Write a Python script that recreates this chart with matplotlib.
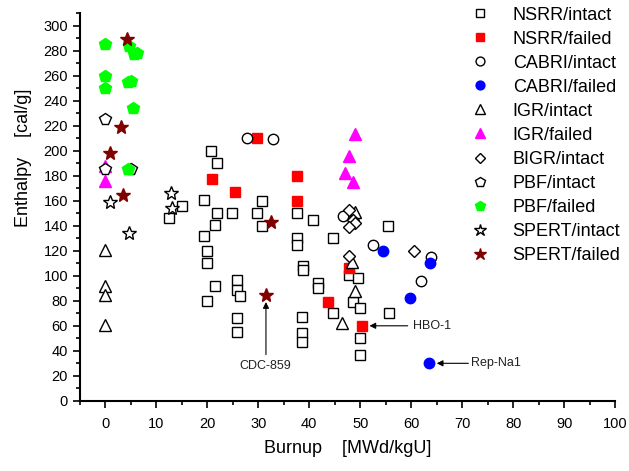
import matplotlib
matplotlib.use('Agg')
import matplotlib.pyplot as plt
from matplotlib.ticker import MultipleLocator

plt.rcParams['font.family'] = ['Liberation Sans', 'DejaVu Sans']

# burnup [MWd/kgU], enthalpy [cal/g]
nsrr_ok_x = [20.8, 21.9, 19.3, 15.0, 12.5, 30.8, 21.9, 24.8, 29.8, 37.5, 21.5, 30.8, 19.4,
             37.6, 37.6, 40.7, 44.6, 55.5, 19.9, 19.9, 25.8, 25.8, 26.5, 21.5, 19.9, 25.8,
             25.8, 38.8, 38.8, 47.7, 49.6, 41.8, 41.8, 48.5, 50.0, 44.7, 55.6, 38.6, 38.6,
             38.6, 50.0, 50.0]
nsrr_ok_y = [200, 190, 161, 156, 146, 160, 150, 150, 150, 150, 141, 140, 132,
             130, 125, 145, 130, 140, 120, 110, 97, 89, 84, 92, 80, 66,
             55, 108, 105, 101, 98, 94, 90, 79, 74, 70, 70, 67, 54,
             47, 50, 37]
nsrr_fail_x = [29.8, 21.0, 25.5, 37.5, 37.5, 47.7, 43.7, 50.3]
nsrr_fail_y = [210, 177, 167, 180, 160, 106, 79, 60]
cabri_ok_x = [27.8, 32.8, 46.7, 52.4, 63.8, 61.9]
cabri_ok_y = [210, 209, 148, 125, 115, 96]
cabri_fail_x = [54.5, 63.6, 59.7, 63.4]
cabri_fail_y = [120, 110, 82, 30]
igr_ok_x = [0, 0, 0, 0, 49.0, 48.3, 49.0, 46.5]
igr_ok_y = [121, 92, 85, 61, 151, 111, 88, 62]
igr_fail_x = [0, 0, 49.0, 47.7, 47.0, 48.6]
igr_fail_y = [188, 176, 213, 196, 182, 175]
bigr_ok_x = [47.7, 48.6, 49.0, 47.7, 47.7, 60.5]
bigr_ok_y = [153, 145, 142, 139, 116, 120]
pbf_ok_x = [0, 0, 5.1]
pbf_ok_y = [225, 185, 185]
pbf_fail_x = [0, 4.7, 5.7, 6.2, 0, 4.5, 5.0, 0, 5.5, 4.5]
pbf_fail_y = [285, 284, 277, 278, 260, 255, 256, 250, 234, 185]
spert_ok_x = [1.0, 12.9, 13.0, 4.6]
spert_ok_y = [159, 166, 154, 134]
spert_fail_x = [4.2, 3.0, 1.0, 3.5, 31.5, 32.5]
spert_fail_y = [289, 219, 198, 165, 85, 143]

fig = plt.figure(figsize=(6.29, 4.71), dpi=100)
ax = fig.add_axes([0.127, 0.149, 0.851, 0.823])

def pts(x, y, marker, fc, ec, label, ms=7.5):
    ax.plot(x, y, linestyle='none', marker=marker, markersize=ms,
            markerfacecolor=fc, markeredgecolor=ec, markeredgewidth=1.0, label=label)

pts(nsrr_ok_x, nsrr_ok_y, 's', 'white', 'black', 'NSRR/intact', 7)
pts(nsrr_fail_x, nsrr_fail_y, 's', 'red', 'red', 'NSRR/failed', 7)
pts(cabri_ok_x, cabri_ok_y, 'o', 'white', 'black', 'CABRI/intact')
pts(cabri_fail_x, cabri_fail_y, 'o', 'blue', 'blue', 'CABRI/failed')
pts(igr_ok_x, igr_ok_y, '^', 'white', 'black', 'IGR/intact', 8.5)
pts(igr_fail_x, igr_fail_y, '^', 'magenta', 'magenta', 'IGR/failed', 8.5)
pts(bigr_ok_x, bigr_ok_y, 'D', 'white', 'black', 'BIGR/intact', 6.5)
pts(pbf_ok_x, pbf_ok_y, 'p', 'white', 'black', 'PBF/intact', 8.5)
pts(pbf_fail_x, pbf_fail_y, 'p', '#00ff00', '#00ff00', 'PBF/failed', 9)
pts(spert_ok_x, spert_ok_y, '*', 'white', 'black', 'SPERT/intact', 10.5)
pts(spert_fail_x, spert_fail_y, '*', '#800000', '#800000', 'SPERT/failed', 10.5)

arrow = dict(arrowstyle='-|>', color='black', lw=0.8, mutation_scale=9, shrinkA=0, shrinkB=0)
ax.annotate('', xy=(31.5, 79), xytext=(31.5, 37), arrowprops=arrow)
ax.text(31.4, 28, 'CDC-859', fontsize=9, color='#222222', ha='center', va='center')
ax.annotate('', xy=(51.8, 60), xytext=(59.3, 60), arrowprops=arrow)
ax.text(60.4, 60, 'HBO-1', fontsize=9, color='#222222', ha='left', va='center')
ax.annotate('', xy=(65.0, 30), xytext=(71.2, 30), arrowprops=arrow)
ax.text(71.8, 30, 'Rep-Na1', fontsize=9, color='#222222', ha='left', va='center')

ax.set_xlim(-5, 100)
ax.set_ylim(0, 310)
ax.set_xticks(range(0, 101, 10))
ax.set_yticks(range(0, 301, 20))
ax.xaxis.set_minor_locator(MultipleLocator(5))
ax.yaxis.set_minor_locator(MultipleLocator(10))
ax.tick_params(which='major', direction='out', length=5, width=1.2, labelsize=10.5)
ax.tick_params(axis='x', which='major', pad=7)
ax.tick_params(which='minor', direction='out', length=3, width=1.2)
for s in ['top', 'right']:
    ax.spines[s].set_visible(False)
for s in ['left', 'bottom']:
    ax.spines[s].set_linewidth(1.5)

ax.set_xlabel('Burnup    [MWd/kgU]', fontsize=13, labelpad=6)
ax.set_ylabel('Enthalpy    [cal/g]', fontsize=13)
ax.yaxis.set_label_coords(-0.09, 0.626)

ax.legend(loc='upper left', bbox_to_anchor=(0.749, 0.986), bbox_transform=fig.transFigure,
          frameon=False, fontsize=13, handlelength=1.0, handletextpad=1.3,
          labelspacing=0.39, borderpad=0, borderaxespad=0, markerscale=0.85)

fig.savefig('out.png', dpi=100)
